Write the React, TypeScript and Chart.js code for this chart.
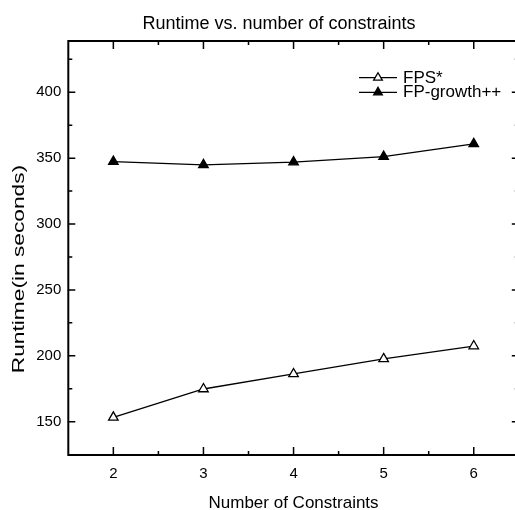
import React, { useEffect, useRef } from "react";
import { Chart, registerables } from "chart.js";

Chart.register(...registerables);

const CONSTRAINTS = [2, 3, 4, 5, 6];
const FPS_STAR = [153.3, 174.8, 186.2, 197.6, 207.4];
const FP_GROWTH = [347.4, 344.9, 347.0, 351.2, 360.9];
const SERIES_NAMES = ["FPS*", "FP-growth++"];
const X_TICKS = [2, 3, 4, 5, 6];
const X_MINOR = [2.5, 3.5, 4.5, 5.5];
const Y_TICKS = [150, 200, 250, 300, 350, 400];
const Y_MINOR = [175, 225, 275, 325, 375, 425];
const TITLE = "Runtime vs. number of constraints";
const X_TITLE = "Number of Constraints";
const Y_TITLE = "Runtime(in seconds)";

const FONT = "'Liberation Sans', Arial, sans-serif";
const CANVAS_W = 530;
const CANVAS_H = 510;

function drawTriangle(ctx: CanvasRenderingContext2D, x: number, y: number, r: number, fill: string) {
  const s = Math.sin(Math.PI / 3) * r;
  ctx.beginPath();
  ctx.moveTo(x, y - r);
  ctx.lineTo(x + s, y + r / 2);
  ctx.lineTo(x - s, y + r / 2);
  ctx.closePath();
  ctx.fillStyle = fill;
  ctx.fill();
  ctx.stroke();
}

const framePlugin = {
  id: "frameAndText",
  afterDraw(chart: any) {
    const { ctx, chartArea: a } = chart;
    const xs = chart.scales.x;
    const ys = chart.scales.y;
    ctx.save();
    ctx.strokeStyle = "#000";
    ctx.lineWidth = 2;
    ctx.beginPath();
    ctx.moveTo(a.left, a.top);
    ctx.lineTo(a.right, a.top);
    ctx.lineTo(a.right, a.bottom);
    ctx.lineTo(a.left, a.bottom);
    ctx.closePath();
    ctx.stroke();

    ctx.lineWidth = 1.5;
    ctx.beginPath();
    const xt = (v: number, len: number) => {
      const p = xs.getPixelForValue(v);
      ctx.moveTo(p, a.bottom);
      ctx.lineTo(p, a.bottom - len);
      ctx.moveTo(p, a.top);
      ctx.lineTo(p, a.top + len);
    };
    const yt = (v: number, len: number) => {
      const p = ys.getPixelForValue(v);
      ctx.moveTo(a.left, p);
      ctx.lineTo(a.left + len, p);
      ctx.moveTo(a.right, p);
      ctx.lineTo(a.right - len, p);
    };
    X_TICKS.forEach((v) => xt(v, 8));
    X_MINOR.forEach((v) => xt(v, 4));
    Y_TICKS.forEach((v) => yt(v, 7));
    Y_MINOR.forEach((v) => yt(v, 4));
    ctx.stroke();

    // chart title
    ctx.fillStyle = "#000";
    ctx.font = `18px ${FONT}`;
    ctx.textAlign = "center";
    ctx.textBaseline = "alphabetic";
    ctx.fillText(TITLE, 279, 28.6);

    // y axis title (stretched along its length)
    ctx.save();
    ctx.translate(20, 269);
    ctx.rotate(-Math.PI / 2);
    ctx.scale(1.42, 1);
    ctx.font = `16px ${FONT}`;
    ctx.textAlign = "center";
    ctx.textBaseline = "middle";
    ctx.fillText(Y_TITLE, 0, 0);
    ctx.restore();

    // legend inside plot
    chart.data.datasets.forEach((ds: any, i: number) => {
      const ly = 77.7 + i * 14.6;
      ctx.strokeStyle = "#000";
      ctx.lineWidth = 1.3;
      ctx.beginPath();
      ctx.moveTo(359, ly);
      ctx.lineTo(397, ly);
      ctx.stroke();
      drawTriangle(ctx, 378, ly, 5, ds.pointBackgroundColor);
      ctx.fillStyle = "#000";
      ctx.font = `17px ${FONT}`;
      ctx.textAlign = "left";
      ctx.textBaseline = "middle";
      ctx.fillText(ds.label, 403, ly + 0.5);
    });
    ctx.restore();
  },
};

export default function App() {
  const ref = useRef<HTMLCanvasElement>(null);
  useEffect(() => {
    if (!ref.current) return;
    Chart.defaults.font.family = FONT;
    const chart = new Chart(ref.current, {
      type: "line",
      data: {
        datasets: [
          {
            label: SERIES_NAMES[0],
            data: CONSTRAINTS.map((c, i) => ({ x: c, y: FPS_STAR[i] })),
            borderColor: "#000",
            borderWidth: 1.3,
            pointStyle: "triangle",
            pointRadius: 5.5,
            pointBorderWidth: 1.3,
            pointBorderColor: "#000",
            pointBackgroundColor: "#fff",
          },
          {
            label: SERIES_NAMES[1],
            data: CONSTRAINTS.map((c, i) => ({ x: c, y: FP_GROWTH[i] })),
            borderColor: "#000",
            borderWidth: 1.3,
            pointStyle: "triangle",
            pointRadius: 5.5,
            pointBorderWidth: 1.3,
            pointBorderColor: "#000",
            pointBackgroundColor: "#000",
          },
        ],
      },
      options: {
        responsive: false,
        animation: false,
        devicePixelRatio: 1,
        layout: { padding: { left: 0, right: CANVAS_W - 518.8, top: 41, bottom: 0 } },
        plugins: {
          legend: { display: false },
          title: { display: false },
          tooltip: { enabled: false },
        },
        scales: {
          x: {
            type: "linear",
            min: 1.5,
            max: 6.5,
            afterBuildTicks: (s: any) => {
              s.ticks = X_TICKS.map((v) => ({ value: v }));
            },
            afterFit: (s: any) => {
              s.height = 55;
            },
            grid: { display: false, drawTicks: false },
            border: { display: false },
            ticks: {
              color: "#000",
              font: { size: 15 },
              padding: 10,
              maxRotation: 0,
              autoSkip: false,
            },
            title: {
              display: true,
              text: X_TITLE,
              color: "#000",
              font: { size: 17 },
              padding: { top: 0, bottom: -4 },
            },
          },
          y: {
            type: "linear",
            min: 124.7,
            max: 438.9,
            afterBuildTicks: (s: any) => {
              s.ticks = Y_TICKS.map((v) => ({ value: v }));
            },
            afterFit: (s: any) => {
              s.width = 68.3;
            },
            grid: { display: false, drawTicks: false },
            border: { display: false },
            ticks: {
              color: "#000",
              font: { size: 15 },
              padding: 7,
              autoSkip: false,
            },
          },
        },
      },
      plugins: [framePlugin],
    } as any);
    return () => chart.destroy();
  }, []);
  return (
    <div style={{ position: "absolute", left: 0, top: 0, width: 515, height: 510, overflow: "hidden", background: "#fff" }}>
      <canvas ref={ref} width={CANVAS_W} height={CANVAS_H} style={{ display: "block" }} />
    </div>
  );
}
